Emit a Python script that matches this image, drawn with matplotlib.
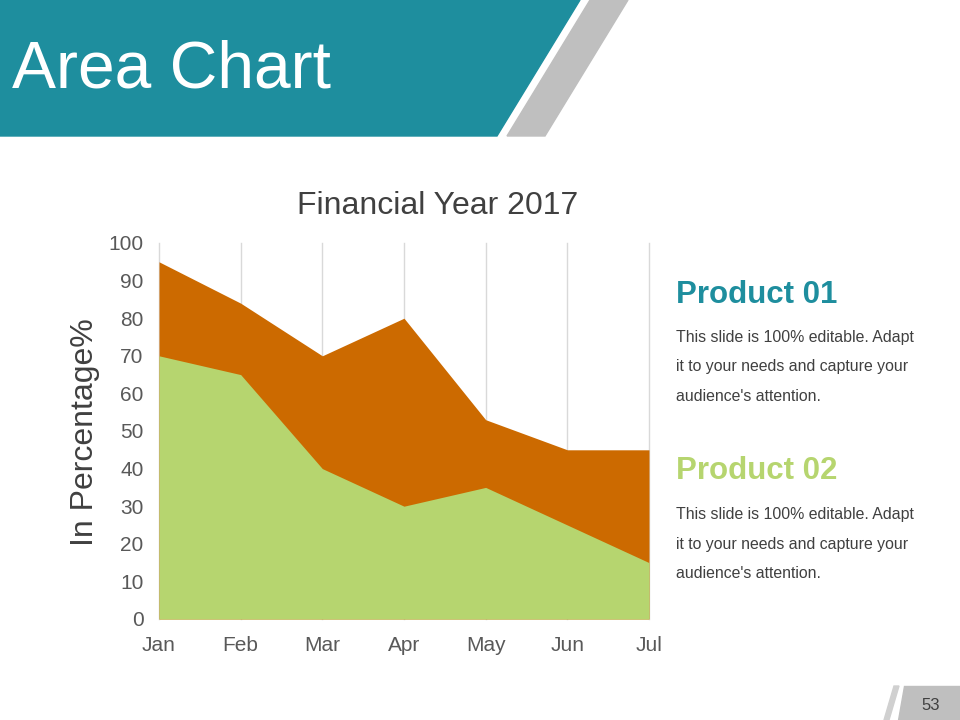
import matplotlib.pyplot as plt
from matplotlib.patches import Polygon

months = ["Jan", "Feb", "Mar", "Apr", "May", "Jun", "Jul"]
product_01 = [95, 84, 70, 80, 53, 45, 45]
product_02 = [70, 65, 40, 30, 35, 25, 15]
yticks = [0, 10, 20, 30, 40, 50, 60, 70, 80, 90, 100]

teal = "#1E8E9E"
orange = "#CC6A00"
green = "#B6D56F"
grey_txt = "#595959"

plt.rcParams["font.family"] = ["Liberation Sans", "DejaVu Sans"]

fig = plt.figure(figsize=(9.6, 7.2), dpi=100)

# slide decoration in pixel coordinates
bg = fig.add_axes([0, 0, 1, 1])
bg.set_xlim(0, 960)
bg.set_ylim(720, 0)
bg.axis("off")
bg.add_patch(Polygon([(0, 0), (580, 0), (497, 136), (0, 136)], color=teal))
bg.add_patch(Polygon([(590, 0), (628, 0), (545, 136), (507, 136)], color="#BFBFBF"))
bg.text(12, 70, "Area Chart", color="white", fontsize=47.5, va="center", ha="left")

bg.add_patch(Polygon([(904, 686), (960, 686), (960, 720), (898, 720)], color="#BFBFBF"))
bg.add_patch(Polygon([(894, 686), (899, 686), (889, 720), (884, 720)], color="#D0D0D0"))
bg.text(931, 705, "53", color="#404040", fontsize=12, ha="center", va="center")

body = "This slide is 100% editable. Adapt\nit to your needs and capture your\naudience's attention."
bg.text(676, 295, "Product 01", color=teal, fontsize=22.5, fontweight="bold", va="center")
bg.text(676, 367, body, color="#404040", fontsize=11.4, va="center", linespacing=2.2)
bg.text(676, 471, "Product 02", color=green, fontsize=22.5, fontweight="bold", va="center")
bg.text(676, 544, body, color="#404040", fontsize=11.4, va="center", linespacing=2.2)

bg.text(438, 206, "Financial Year 2017", fontsize=23, color="#404040", ha="center", va="center")
bg.text(85, 432, "In Percentage%", fontsize=23, color="#404040", ha="center", va="center",
        rotation=90)

# chart
ax = fig.add_axes([159 / 960, 1 - 619 / 720, 490 / 960, 376 / 720])
x = list(range(len(months)))
ax.fill_between(x, product_01, color=orange, lw=0, zorder=2)
ax.fill_between(x, product_02, color=green, lw=0, zorder=3)
ax.set_xlim(0, len(months) - 1)
ax.set_ylim(0, 100)
ax.set_xticks(x, months)
ax.set_yticks(yticks)
ax.grid(axis="x", color="#D9D9D9", lw=1, zorder=0, clip_on=False)
for s in ax.spines.values():
    s.set_visible(False)
ax.tick_params(length=0, labelsize=15, labelcolor=grey_txt)
ax.tick_params(axis="x", pad=12)
ax.tick_params(axis="y", pad=11)

fig.savefig("out.png", dpi=100)
